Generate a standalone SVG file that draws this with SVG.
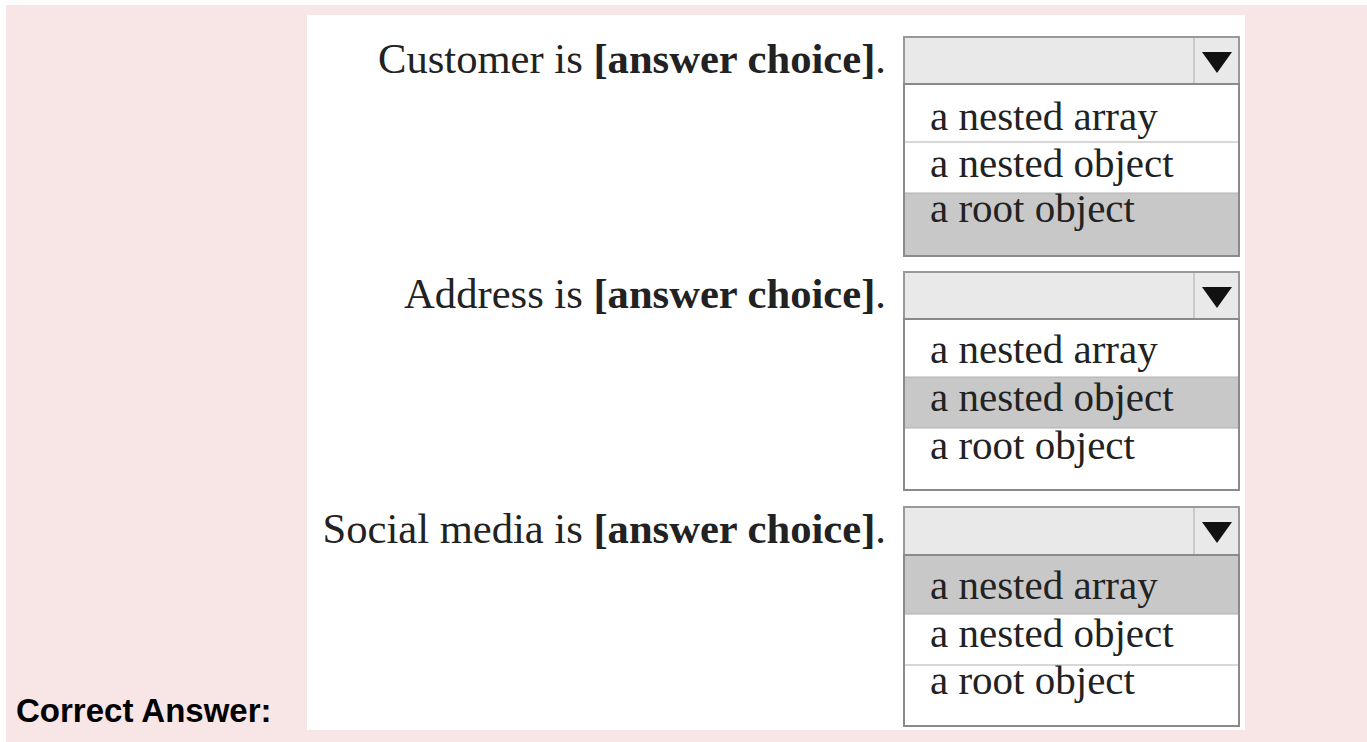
<svg xmlns="http://www.w3.org/2000/svg" width="1367" height="742" viewBox="0 0 1367 742">
<style>
.lbl{font-family:"Liberation Serif","Times New Roman",serif;font-size:42.6px;fill:#222}
.b{font-weight:bold}
.opt{font-family:"Liberation Serif","Times New Roman",serif;font-size:41px;fill:#222}
.hdr{fill:#e9e9e9;stroke:#999;stroke-width:2}
.list{fill:#fff;stroke:#8a8a8a;stroke-width:2}
.sel{fill:#c8c8c8}
.sep{stroke:#b0b0b0;stroke-width:1}
.div{stroke:#aaa;stroke-width:1}
.ca{font-family:"Liberation Sans",Arial,sans-serif;font-size:33px;font-weight:bold;fill:#000}
</style>
<defs>
<polygon id="arrow" points="0,0 30,0 15,21" fill="#111"/>
</defs>
<rect x="0" y="0" width="1367" height="742" fill="#fff"/>
<rect x="6" y="5" width="1361" height="737" fill="#f8e5e5"/>
<rect x="307" y="15" width="938" height="715" fill="#fff"/>
<text class="ca" x="16" y="722">Correct Answer:</text>

<g id="q1">
<text class="lbl" x="886" y="73" text-anchor="end">Customer is <tspan class="b">[answer choice]</tspan>.</text>
<rect class="hdr" x="904" y="37" width="335" height="47"/>
<line class="div" x1="1194" y1="38" x2="1194" y2="83"/>
<use href="#arrow" x="1202" y="52"/>
<rect class="list" x="904" y="84" width="335" height="172"/>
<rect class="sel" x="905" y="193" width="333" height="62"/>
<line class="sep" x1="905" y1="142" x2="1238" y2="142"/>
<line class="sep" x1="905" y1="193" x2="1238" y2="193"/>
<text class="opt" x="930" y="130">a nested array</text>
<text class="opt" x="930" y="177">a nested object</text>
<text class="opt" x="930" y="222">a root object</text>
</g>

<g id="q2">
<text class="lbl" x="886" y="308" text-anchor="end">Address is <tspan class="b">[answer choice]</tspan>.</text>
<rect class="hdr" x="904" y="272" width="335" height="47"/>
<line class="div" x1="1194" y1="273" x2="1194" y2="318"/>
<use href="#arrow" x="1202" y="287"/>
<rect class="list" x="904" y="319" width="335" height="171"/>
<rect class="sel" x="905" y="377" width="333" height="51"/>
<line class="sep" x1="905" y1="377" x2="1238" y2="377"/>
<line class="sep" x1="905" y1="428" x2="1238" y2="428"/>
<text class="opt" x="930" y="363">a nested array</text>
<text class="opt" x="930" y="411">a nested object</text>
<text class="opt" x="930" y="459">a root object</text>
</g>

<g id="q3">
<text class="lbl" x="886" y="543" text-anchor="end">Social media is <tspan class="b">[answer choice]</tspan>.</text>
<rect class="hdr" x="904" y="507" width="335" height="48"/>
<line class="div" x1="1194" y1="508" x2="1194" y2="554"/>
<use href="#arrow" x="1202" y="522"/>
<rect class="list" x="904" y="555" width="335" height="171"/>
<rect class="sel" x="905" y="556" width="333" height="58"/>
<line class="sep" x1="905" y1="614" x2="1238" y2="614"/>
<line class="sep" x1="905" y1="665" x2="1238" y2="665"/>
<text class="opt" x="930" y="599">a nested array</text>
<text class="opt" x="930" y="647">a nested object</text>
<text class="opt" x="930" y="694">a root object</text>
</g>
<g id="connectors"/>
</svg>
